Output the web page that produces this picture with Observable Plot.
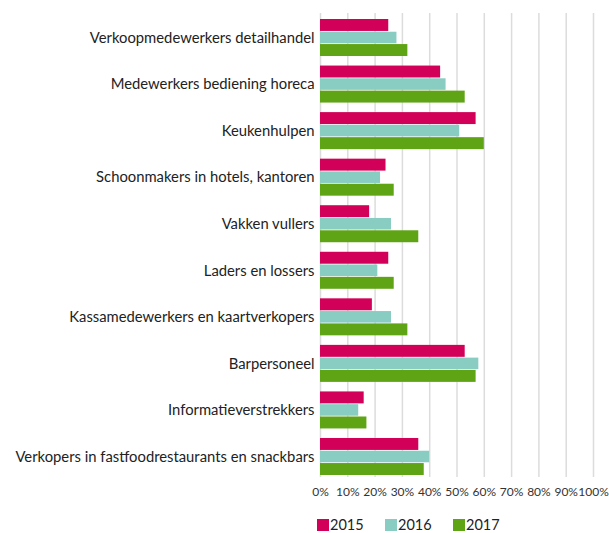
<!DOCTYPE html>
<html>
<head>
<meta charset="utf-8">
<script src="https://cdn.jsdelivr.net/npm/d3@7"></script>
<script src="https://cdn.jsdelivr.net/npm/@observablehq/plot@0.6"></script>
<style>
  html, body { margin: 0; padding: 0; background: #fff; }
  body { width: 609px; height: 533px; overflow: hidden; font-family: Lato, "Noto Sans", sans-serif; }
  #chart svg { display: block; }
  .legend { position: relative; height: 28px; font-family: Lato, "Noto Sans", sans-serif; font-size: 14.5px; line-height: 15px; color: #222; }
  .legend .item { position: absolute; top: 12px; display: flex; align-items: center; height: 15px; }
  .legend .sw { width: 12px; height: 12px; margin-right: 1px; }
</style>
</head>
<body>
<div id="chart"></div>
<div class="legend" id="legend"></div>
<script>
const categories = [
  "Verkoopmedewerkers detailhandel",
  "Medewerkers bediening horeca",
  "Keukenhulpen",
  "Schoonmakers in hotels, kantoren",
  "Vakken vullers",
  "Laders en lossers",
  "Kassamedewerkers en kaartverkopers",
  "Barpersoneel",
  "Informatieverstrekkers",
  "Verkopers in fastfoodrestaurants en snackbars"
];
const years = ["2015", "2016", "2017"];
const v2015 = [25, 44, 57, 24, 18, 25, 19, 53, 16, 36];
const v2016 = [28, 46, 51, 22, 26, 21, 26, 58, 14, 40];
const v2017 = [32, 53, 60, 27, 36, 27, 32, 57, 17, 38];
const colors = ["#d20058", "#89ccc2", "#5fa414"];
const xTicks = [0, 10, 20, 30, 40, 50, 60, 70, 80, 90, 100];

const series = [v2015, v2016, v2017];
const data = [];
categories.forEach((c, i) => {
  years.forEach((y, j) => data.push({category: c, year: y, value: series[j][i]}));
});

// each year occupies one third of the category band
const band = 37.0, third = band / 3;
const insets = years.map((y, j) => ({insetTop: j * third + (j > 0 ? 0.4 : 0), insetBottom: (2 - j) * third + (j < 2 ? 0.4 : 0)}));

const chart = Plot.plot({
  width: 609,
  height: 505,
  marginLeft: 320,
  marginRight: 16,
  marginTop: 19,
  marginBottom: 30,
  style: {fontFamily: "Lato, 'Noto Sans', sans-serif", color: "#222", background: "#fff"},
  x: {domain: [0, 100], label: null},
  y: {domain: categories, paddingInner: 0.205, paddingOuter: 0, round: false, label: null},
  color: {domain: years, range: colors},
  marks: [
    Plot.gridX(xTicks, {stroke: "#dcdcdc", strokeOpacity: 1, strokeWidth: 1.5, insetTop: -6, insetBottom: -2}),
    ...years.map((yr, j) => Plot.barX(data.filter(d => d.year === yr), {x: "value", y: "category", fill: "year", ...insets[j]})),
    Plot.axisX({ticks: xTicks, tickFormat: d => d + "%", tickSize: 0, tickPadding: 12, fontSize: 12, label: null, fill: "#333"}),
    Plot.axisY({anchor: "left", tickSize: 0, tickPadding: 6, fontSize: 14.8, label: null, fill: "#222"})
  ]
});
document.getElementById("chart").appendChild(chart);

const legend = document.getElementById("legend");
years.forEach((y, j) => {
  const item = document.createElement("div");
  item.className = "item";
  item.style.left = (317 + j * 68) + "px";
  const sw = document.createElement("span");
  sw.className = "sw";
  sw.style.background = colors[j];
  const t = document.createElement("span");
  t.textContent = y;
  item.appendChild(sw);
  item.appendChild(t);
  legend.appendChild(item);
});
</script>
</body>
</html>
